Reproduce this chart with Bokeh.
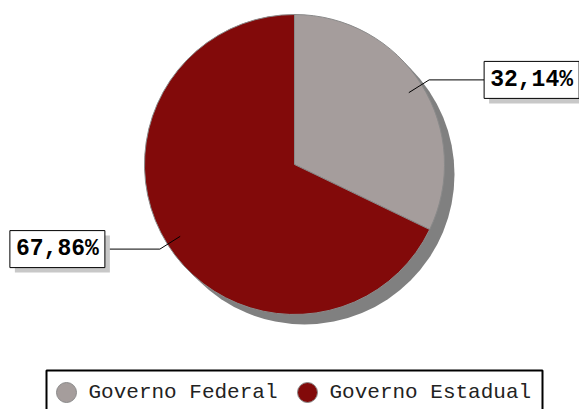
import math
from bokeh.plotting import figure
from bokeh.models import Range1d
from bokeh.core.properties import value
from bokeh.embed import file_html
from bokeh.resources import INLINE

categories = ["Governo Federal", "Governo Estadual"]
shares = [32.14, 67.86]
colors = ["#A59D9C", "#820A0A"]

W, H = 579, 409
p = figure(width=W, height=H, output_backend="svg", toolbar_location=None,
           x_range=Range1d(0, W), y_range=Range1d(0, H),
           x_axis_location=None, y_axis_location=None, min_border=0)
p.outline_line_color = None
p.grid.visible = False
p.background_fill_color = "white"
p.border_fill_color = "white"

cx, cy, r = 294, 245, 150
# shadow
p.circle(x=[cx + 10], y=[cy - 10], radius=r, fill_color="#808080", line_color=None)

total = sum(shares)
start = math.pi / 2
starts, ends, mids = [], [], []
for s in shares:
    a = s / total * 2 * math.pi
    starts.append(start)
    ends.append(start - a)
    mids.append(start - a / 2)
    start -= a

p.wedge(x=[cx] * len(shares), y=[cy] * len(shares), radius=r,
        start_angle=starts, end_angle=ends, direction="clock",
        fill_color=colors, line_color="#8a8a8a", line_width=1)

font = "Liberation Mono"
bw, bh = 95, 37
for s, m in zip(shares, mids):
    x0, y0 = cx + 0.9 * r * math.cos(m), cy + 0.9 * r * math.sin(m)
    x1, y1 = cx + 1.06 * r * math.cos(m), cy + 1.06 * r * math.sin(m)
    side = 1 if math.cos(m) >= 0 else -1
    x2 = x1 + side * 55
    p.line([x0, x1, x2], [y0, y1, y1], line_color="black", line_width=1)
    if side > 0:
        bl, br = x2, x2 + bw
    else:
        bl, br = x2 - bw, x2
    bb, bt = y1 - bh / 2, y1 + bh / 2
    p.quad(left=[bl + 5], right=[br + 5], bottom=[bb - 5], top=[bt - 5],
           fill_color="#C8C8C8", line_color=None)
    p.quad(left=[bl], right=[br], bottom=[bb], top=[bt],
           fill_color="white", line_color="black", line_width=1)
    label = f"{s:.2f}".replace(".", ",") + "%"
    p.text(x=[(bl + br) / 2], y=[y1], text=[label], text_align="center",
           text_baseline="middle", text_font=value(font), text_font_size="23px",
           text_font_style="bold", text_color="black")

# legend
p.quad(left=[46], right=[542], bottom=[-10], top=[39], fill_color="white",
       line_color="black", line_width=2)
leg_x = [66, 307]
p.circle(x=leg_x, y=[17, 17], radius=10, fill_color=colors, line_color="#8a8a8a")
p.text(x=[x + 22 for x in leg_x], y=[17, 17], text=categories, text_align="left",
       text_baseline="middle", text_font=value(font), text_font_size="21px",
       text_color="#222222")

open("out.html", "w").write(file_html(p, INLINE))
